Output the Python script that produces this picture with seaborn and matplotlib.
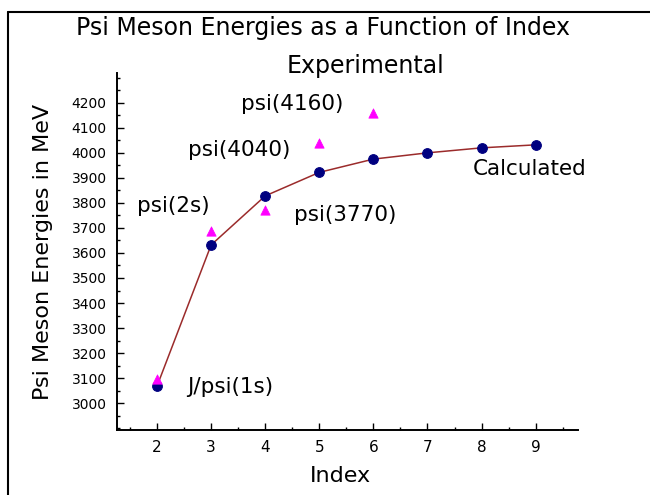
import seaborn as sns
import pandas as pd
import matplotlib.pyplot as plt
from matplotlib.lines import Line2D
from matplotlib.ticker import MultipleLocator, FixedLocator

# calculated energies for index 2..9
index_calc = [2, 3, 4, 5, 6, 7, 8, 9]
energy_calc = [3068, 3632, 3828, 3922, 3975, 4000, 4020, 4032]

# measured states
index_exp = [2, 3, 4, 5, 6]
energy_exp = [3097, 3686, 3770, 4040, 4160]

y_ticks = list(range(3000, 4300, 100))

calc = pd.DataFrame({"Index": index_calc, "Energy": energy_calc})
exp = pd.DataFrame({"Index": index_exp, "Energy": energy_exp})

sns.set_style("white")
plt.rcParams["font.family"] = ["DejaVu Sans"]
plt.rcParams["text.color"] = "black"
plt.rcParams["axes.labelcolor"] = "black"
plt.rcParams["xtick.color"] = "black"
plt.rcParams["ytick.color"] = "black"

fig = plt.figure(figsize=(6.5, 4.95), dpi=100)
ax = fig.add_axes([0.18, 0.131, 0.709, 0.722])

sns.lineplot(data=calc, x="Index", y="Energy", ax=ax, color="#9b2b2b",
             linewidth=1.1, marker="o", markersize=7,
             markerfacecolor="#000080", markeredgecolor="#000080", zorder=2)
sns.scatterplot(data=exp, x="Index", y="Energy", ax=ax, marker="^",
                color="#ff00ff", edgecolor="#ff00ff", s=45, zorder=3)

# labels next to the points
fs = 15.5
ax.text(3.35, 3064, "J/psi(1s)", fontsize=fs, ha="center", va="center")
ax.text(2.31, 3788, "psi(2s)", fontsize=fs, ha="center", va="center")
ax.text(5.47, 3752, "psi(3770)", fontsize=fs, ha="center", va="center")
ax.text(3.51, 4012, "psi(4040)", fontsize=fs, ha="center", va="center")
ax.text(4.49, 4196, "psi(4160)", fontsize=fs, ha="center", va="center")
ax.text(8.89, 3936, "Calculated", fontsize=fs, ha="center", va="center")

ax.set_xlim(1.26, 9.78)
ax.set_ylim(2892, 4320)
ax.set_xticks(index_calc)
ax.xaxis.set_minor_locator(MultipleLocator(0.5))
ax.yaxis.set_major_locator(FixedLocator(y_ticks))
ax.yaxis.set_minor_locator(MultipleLocator(50))
ax.tick_params(which="both", direction="in", bottom=True, left=True,
               color="black", width=1)
ax.tick_params(which="major", length=5)
ax.tick_params(which="minor", length=2.5)
ax.tick_params(axis="x", labelsize=11, pad=7)
ax.tick_params(axis="y", labelsize=10, pad=7.5)

sns.despine(ax=ax)
for s in ["left", "bottom"]:
    ax.spines[s].set_color("black")
    ax.spines[s].set_linewidth(1.4)

ax.set_xlabel("Index", fontsize=16)
ax.set_ylabel("Psi Meson Energies in MeV", fontsize=16)
ax.xaxis.set_label_coords(0.484, -0.1)
ax.yaxis.set_label_coords(-0.139, 0.5)

fig.text(323 / 650, 1 - 28 / 495, "Psi Meson Energies as a Function of Index",
         fontsize=17, ha="center", va="center")
fig.text(366 / 650, 1 - 66 / 495, "Experimental", fontsize=17,
         ha="center", va="center")

# outer frame (top and left edges)
fig.add_artist(Line2D([7.5 / 650, 7.5 / 650], [0, 1 - 12 / 495],
                      transform=fig.transFigure, color="black", linewidth=1.5))
fig.add_artist(Line2D([7.5 / 650, 1], [1 - 12 / 495, 1 - 12 / 495],
                      transform=fig.transFigure, color="black", linewidth=1.5))

fig.savefig("out.png", dpi=100)
